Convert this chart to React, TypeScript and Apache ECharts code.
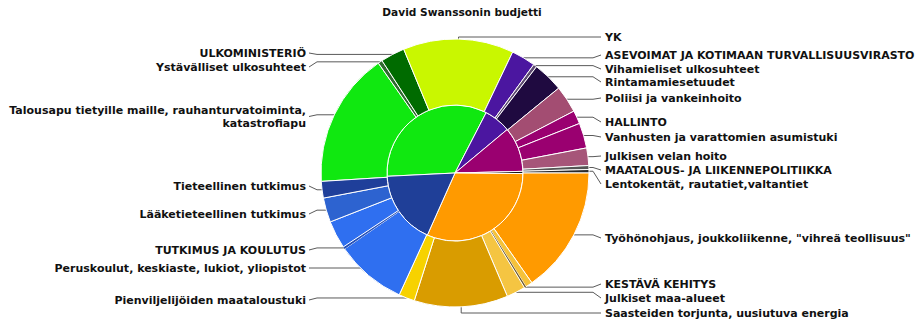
import React, { useEffect, useRef } from 'react';
import * as echarts from 'echarts';

const chartTitle = 'David Swanssonin budjetti';

// Inner ring: ministries (values in degrees of the full circle)
const innerNames = [
  'ULKOMINISTERIÖ',
  'ASEVOIMAT JA KOTIMAAN TURVALLISUUSVIRASTO',
  'HALLINTO',
  'MAATALOUS- JA LIIKENNEPOLITIIKKA',
  'KESTÄVÄ KEHITYS',
  'TUTKIMUS JA KOULUTUS',
];
const innerValues = [120.1, 22.9, 38.4, 1.9, 113.5, 63.2];
const innerColors = ['#10e810', '#4b16a0', '#9a0070', '#141414', '#ff9a00', '#1f3f98'];

// Outer ring: budget items (values in degrees of the full circle)
const outerNames = [
  'Talousapu tietyille maille, rauhanturvatoiminta,\nkatastrofiapu',
  'Ystävälliset ulkosuhteet',
  'ULKOMINISTERIÖ',
  'YK',
  'ASEVOIMAT JA KOTIMAAN TURVALLISUUSVIRASTO',
  'Vihamieliset ulkosuhteet',
  'Rintamamiesetuudet',
  'Poliisi ja vankeinhoito',
  'HALLINTO',
  'Vanhusten ja varattomien asumistuki',
  'Julkisen velan hoito',
  'MAATALOUS- JA LIIKENNEPOLITIIKKA',
  'Lentokentät, rautatiet,valtantiet',
  'Työhönohjaus, joukkoliikenne, "vihreä teollisuus"',
  '',
  'KESTÄVÄ KEHITYS',
  'Julkiset maa-alueet',
  'Saasteiden torjunta, uusiutuva energia',
  'Pienviljelijöiden maataloustuki',
  'Peruskoulut, keskiaste, lukiot, yliopistot',
  'TUTKIMUS JA KOULUTUS',
  '',
  'Lääketieteellinen tutkimus',
  'Tieteellinen tutkimus',
];
const outerValues = [
  58.7, 1.9, 10.5, 48, 10.5, 1.5, 13.2, 11.8, 5.8, 10.9, 7.6, 1.7, 1.5,
  55, 3, 0.8, 8.2, 40.7, 6.9, 30.9, 1.0, 12.1, 10.6, 7.2,
];
const outerColors = [
  '#10e810', '#2f6a2f', '#006b00', '#c9f700', '#4b16a0', '#5c4a70', '#1f0a40',
  '#a34d72', '#9a0070', '#9a0070', '#a65579', '#555555', '#2a2a2a',
  '#ff9a00', '#f5c23a', '#6e5a30', '#f5c542', '#d99c00', '#f7d200',
  '#2f6ff0', '#2550b8', '#2f6ff0', '#2d63d0', '#1f3f9a',
];
// Vertical centre of each label (layout only)
const labelYs: (number | null)[] = [
  116.5, 67, 53, 37, 55, 69, 82, 98, 122, 137, 156, 170, 184,
  238, null, 284, 298, 313, 300, 268, 250, null, 214, 186,
];
const thinItems = [15, 20];

const CX = 455;
const CY = 173;
const RIGHT_TEXT_X = 605;
const RIGHT_LINE_END = 601;
const LEFT_TEXT_X = 306;
const LEFT_LINE_END = 309;
const FONT = 'DejaVu Sans';

export default function App() {
  const ref = useRef<HTMLDivElement>(null);
  useEffect(() => {
    document.body.style.margin = '0';
    if (!ref.current) return;
    const chart = echarts.init(ref.current, null, { renderer: 'svg' });
    const innerData = innerNames.map((n, i) => ({
      name: n,
      value: innerValues[i],
      itemStyle: { color: innerColors[i] },
    }));
    const outerData = outerNames.map((n, i) => {
      const hasLabel = labelYs[i] != null;
      const thin = thinItems.includes(i);
      return {
        name: n,
        value: outerValues[i],
        itemStyle: thin
          ? { color: outerColors[i], borderWidth: 0 }
          : { color: outerColors[i] },
        label: { show: hasLabel },
        labelLine: { show: hasLabel },
      };
    });
    chart.setOption({
      animation: false,
      backgroundColor: '#ffffff',
      graphic: [
        {
          type: 'text',
          x: 462,
          y: 12,
          style: {
            text: chartTitle,
            align: 'center',
            verticalAlign: 'middle',
            font: `bold 10.6px "${FONT}"`,
            fill: '#111',
          },
        },
      ],
      series: [
        {
          type: 'pie',
          center: [CX, CY],
          radius: [0, 68],
          startAngle: 90 - 267.2,
          clockwise: true,
          silent: true,
          label: { show: false },
          labelLine: { show: false },
          itemStyle: { borderColor: '#ffffff', borderWidth: 1 },
          data: innerData,
        },
        {
          type: 'pie',
          center: [CX, CY],
          radius: [68, 134],
          startAngle: 90 - 266.4,
          clockwise: true,
          silent: true,
          avoidLabelOverlap: false,
          itemStyle: { borderColor: '#ffffff', borderWidth: 1 },
          label: {
            show: true,
            position: 'outside',
            color: '#111',
            fontFamily: FONT,
            fontWeight: 'bold',
            fontSize: 11,
            lineHeight: 13,
            width: 420,
            overflow: 'none',
          },
          labelLine: {
            show: true,
            length: 6,
            length2: 6,
            lineStyle: { color: '#5a5a5a', width: 1 },
          },
          labelLayout: (p: any) => {
            const ly = labelYs[p.dataIndex];
            const pts = p.labelLinePoints;
            if (ly == null || !pts) return {};
            const ax = pts[0][0];
            const ay = pts[0][1];
            const right = ax >= CX;
            const endX = right ? RIGHT_LINE_END : LEFT_LINE_END;
            const textX = right ? RIGHT_TEXT_X : LEFT_TEXT_X;
            let mid: number[];
            if (Math.abs(ax - CX) < 20) mid = [ax, ly];
            else if (!right && Math.abs(ly - ay) > 6) mid = [ax - 8, ly];
            else mid = [endX + (right ? -8 : 8), ay];
            return {
              x: textX,
              y: ly,
              align: right ? 'left' : 'right',
              verticalAlign: 'middle',
              labelLinePoints: [[ax, ay], mid, [endX, ly]],
            };
          },
          data: outerData,
        },
      ],
    });
    return () => chart.dispose();
  }, []);
  return <div ref={ref} style={{ width: 919, height: 321 }} />;
}
